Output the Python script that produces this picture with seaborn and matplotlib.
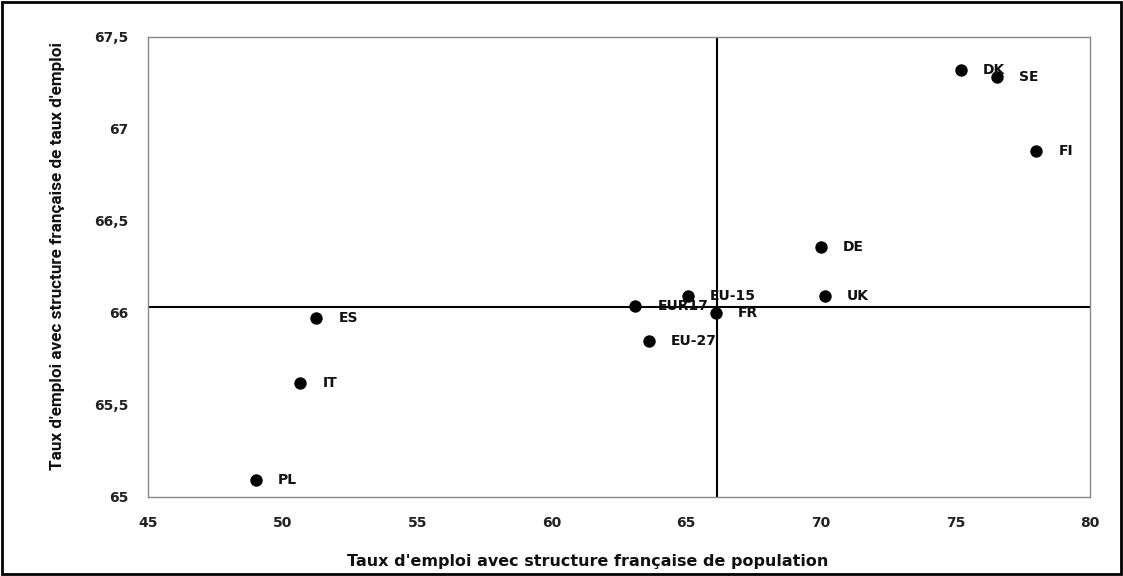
import pandas as pd
import matplotlib.pyplot as plt
import seaborn as sns
from matplotlib.patches import Rectangle
from matplotlib.ticker import FuncFormatter

# Données
pays = ['DK', 'SE', 'FI', 'DE', 'UK', 'EU-15', 'EUR17', 'FR', 'EU-27', 'ES', 'IT', 'PL']
taux_pop = [75.2, 76.55, 78.0, 70.0, 70.15, 65.05, 63.1, 66.1, 63.6, 51.25, 50.65, 49.0]
taux_emploi = [67.32, 67.28, 66.88, 66.36, 66.09, 66.09, 66.04, 66.0, 65.85, 65.97, 65.62, 65.09]

ref_x = 66.15
ref_y = 66.03

x_ticks = [45, 50, 55, 60, 65, 70, 75, 80]
y_ticks = [65, 65.5, 66, 66.5, 67, 67.5]

sns.set_style('white')
plt.rcParams['font.family'] = ['DejaVu Sans']
plt.rcParams['axes.unicode_minus'] = False

df = pd.DataFrame({'Pays': pays, 'X': taux_pop, 'Y': taux_emploi})

fig = plt.figure(figsize=(11.23, 5.76), dpi=100)
ax = fig.add_axes([0.1318, 0.1372, 0.8388, 0.7986])

sns.scatterplot(data=df, x='X', y='Y', color='black', s=80, edgecolor='black',
                linewidth=0, ax=ax, zorder=3)

ax.axvline(ref_x, color='black', linewidth=1.5, zorder=2)
ax.axhline(ref_y, color='black', linewidth=1.5, zorder=2)

for _, r in df.iterrows():
    ax.annotate(r['Pays'], (r['X'], r['Y']), xytext=(16, 0), textcoords='offset points',
                ha='left', va='center', fontsize=10, fontweight='bold', color='#111111')

ax.set_xlim(45, 80)
ax.set_ylim(65, 67.5)
ax.set_xticks(x_ticks)
ax.set_yticks(y_ticks)
ax.yaxis.set_major_formatter(FuncFormatter(lambda v, p: ('%g' % v).replace('.', ',')))
ax.tick_params(axis='both', which='major', direction='inout', length=8, width=1,
               color='#888888', labelsize=10, pad=10, labelcolor='#222222')
for lab in ax.get_xticklabels() + ax.get_yticklabels():
    lab.set_fontweight('bold')

for sp in ax.spines.values():
    sp.set_color('#888888')
    sp.set_linewidth(1)

ax.set_xlabel("Taux d'emploi avec structure française de population", fontsize=11.5,
              fontweight='bold', color='#111111')
ax.set_ylabel("Taux d'emploi avec structure française de taux d'emploi", fontsize=12.3,
              fontweight='bold', color='#111111', family=['Roboto', 'DejaVu Sans'])
ax.xaxis.set_label_coords(0.467, -0.124)
ax.yaxis.set_label_coords(-0.088, 0.524)

# cadre autour de la figure
fig.patches.append(Rectangle((0.002, 0.003), 0.996, 0.994, transform=fig.transFigure,
                             fill=False, edgecolor='black', linewidth=2))

plt.savefig('out.png', dpi=100)
plt.close()
